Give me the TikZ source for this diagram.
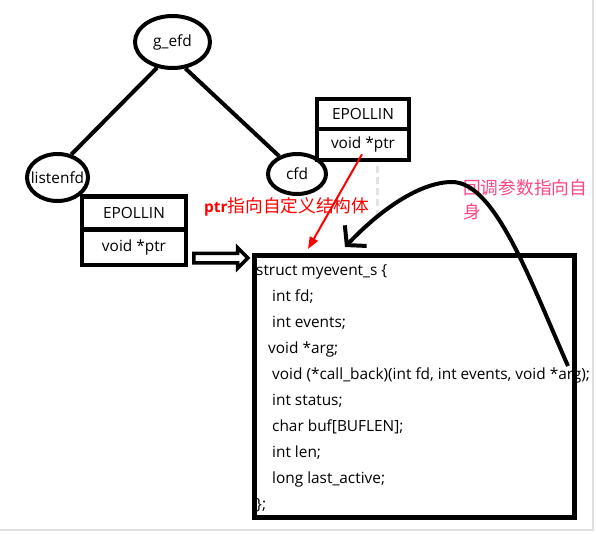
\documentclass[tikz,border=0pt]{standalone}
\usepackage{fontspec}
\setmainfont{Open Sans}
\newfontfamily\cjk{Noto Sans CJK SC}
\usetikzlibrary{shapes.geometric,shapes.arrows,arrows.meta,calc}
\definecolor{pinktxt}{RGB}{255,70,130}
\begin{document}
\begin{tikzpicture}[x=1pt,y=-1pt,font=\fontsize{15.4}{18}\selectfont,
  ell/.style={draw,ellipse,line width=4pt,inner sep=0pt},
  fbox/.style={draw,rectangle,line width=4.5pt,inner sep=0pt},
  code/.style={anchor=base west,inner sep=0pt},
  tree/.style={line width=4pt},
  cjktxt/.style={anchor=west,inner sep=0pt,font=\cjk\fontsize{17.7}{21}\selectfont}]
\useasboundingbox (0,0) rectangle (597,533);
\fill[white] (0,0) rectangle (597,533);
\draw[gray!25,line width=1.5pt] (593,0) -- (593,530) -- (0,530);
% tree
\node[ell,minimum width=75pt,minimum height=52pt] (g) at (172.5,42) {\makebox[0pt]{g\_efd}};
\node[ell,minimum width=61pt,minimum height=47pt] (l) at (57.5,177.5) {\makebox[0pt]{listenfd}};
\node[ell,minimum width=58pt,minimum height=40pt] (c) at (297,174) {\makebox[0pt]{cfd}};
\draw[tree] (g.239) -- (l.59);
\draw[tree] (g.296) -- (c.135);
% epoll boxes
\node[fbox,minimum width=104pt,minimum height=33pt] (le) at (134,213) {EPOLLIN};
\node[fbox,minimum width=104pt,minimum height=36pt] (lp) at (134,247) {void *ptr};
\node[fbox,minimum width=92pt,minimum height=30pt] (ce) at (363,114) {EPOLLIN};
\node[fbox,minimum width=92pt,minimum height=31pt] (cp) at (363,144.5) {void *ptr};
% struct box
\node[draw,line width=5pt,minimum width=320pt,minimum height=262pt,inner sep=0pt] (s) at (414.5,386.5) {};
\node[code] (t1) at (256,275) {struct myevent\_s \{};
\node[code] (t2) at (272,301) {int fd;};
\node[code] (t3) at (272,327) {int events;};
\node[code] (t4) at (268,353) {void *arg;};
\node[code] (t5) at (272,379) {void (*call\_back)(int fd, int events, void *arg);};
\node[code] (t6) at (272,405) {int status;};
\node[code] (t7) at (272,431) {char buf[BUFLEN];};
\node[code] (t8) at (272,457) {int len;};
\node[code] (t9) at (272,483) {long last\_active;};
\node[code] (t10) at (256,509) {\};};
% hollow arrow
\node[single arrow,draw,line width=3.5pt,fill=white,inner xsep=0pt,inner ysep=3pt,
  single arrow head extend=5.5pt,single arrow head indent=0pt,minimum height=54pt] (ha) at (218.5,258) {};
% grey artefact
\draw[gray!22,line width=3pt,dash pattern=on 7pt off 4pt] (377,166) -- (377,218);
% red text and arrow
\node[cjktxt,text=red] (rt) at (204,207) {{\fontspec{Open Sans}\fontsize{15.4}{18}\selectfont\bfseries ptr}指向自定义结构体};
\draw[red,line width=2pt,-{Triangle[length=12pt,width=9pt]}] ($(cp.south)+(-1,-8)$) -- ($(s.north west)+(56,-4)$);
% pink text
\node[cjktxt,text=pinktxt] (p1) at (463,188) {回调参数指向自};
\node[cjktxt,text=pinktxt] (p2) at (463,212) {身};
% callback curve
\coordinate (cs) at (568,366);
\coordinate (ct) at (345,247);
\draw[line width=4pt,-{Straight Barb[length=13pt,width=30pt]}] (cs) .. controls (530,280) and (495,182) .. (452,182) .. controls (420,182) and (380,210) .. (ct);
\end{tikzpicture}
\end{document}
